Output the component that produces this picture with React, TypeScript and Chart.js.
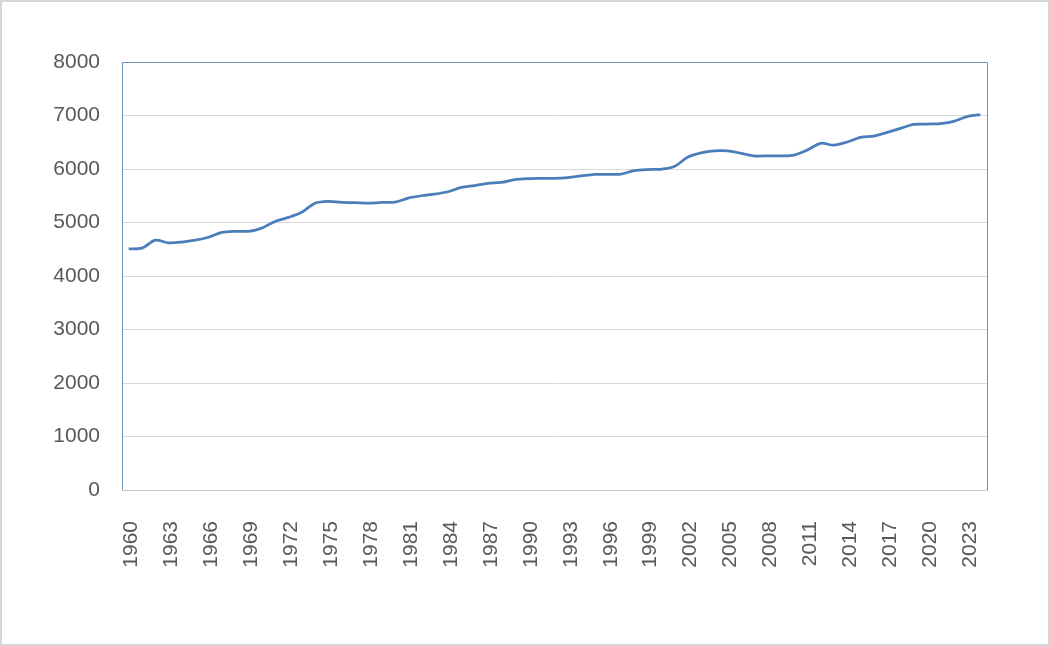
import React, { useEffect, useRef } from "react";
import { Chart, registerables } from "chart.js";

Chart.register(...registerables);

const years: string[] = [
  "1960", "1961", "1962", "1963", "1964", "1965", "1966", "1967", "1968", "1969",
  "1970", "1971", "1972", "1973", "1974", "1975", "1976", "1977", "1978", "1979",
  "1980", "1981", "1982", "1983", "1984", "1985", "1986", "1987", "1988", "1989",
  "1990", "1991", "1992", "1993", "1994", "1995", "1996", "1997", "1998", "1999",
  "2000", "2001", "2002", "2003", "2004", "2005", "2006", "2007", "2008", "2009",
  "2010", "2011", "2012", "2013", "2014", "2015", "2016", "2017", "2018", "2019",
  "2020", "2021", "2022", "2023", "2024",
];

const values: number[] = [
  4505, 4520, 4670, 4620, 4635, 4670, 4725, 4815, 4835, 4835,
  4895, 5020, 5095, 5190, 5360, 5395, 5375, 5370, 5360, 5375,
  5380, 5455, 5500, 5530, 5575, 5655, 5690, 5730, 5750, 5800,
  5820, 5825, 5825, 5840, 5870, 5900, 5900, 5905, 5970, 5990,
  5995, 6045, 6220, 6300, 6340, 6340, 6295, 6245, 6245, 6245,
  6260, 6355, 6480, 6445, 6505, 6590, 6615, 6685, 6760, 6835,
  6840, 6850, 6890, 6980, 7015,
];

const yMin = 0;
const yMax = 8000;
const yStep = 1000;

const W = 1050;
const H = 646;

const framePlugin = {
  id: "frame",
  beforeDraw(chart: any) {
    const ctx = chart.ctx;
    ctx.save();
    ctx.fillStyle = "#ffffff";
    ctx.fillRect(0, 0, chart.width, chart.height);
    ctx.restore();
  },
  afterDraw(chart: any) {
    const ctx = chart.ctx;
    const a = chart.chartArea;
    ctx.save();
    // plot area border
    ctx.strokeStyle = "#6f92b8";
    ctx.lineWidth = 1;
    ctx.beginPath();
    ctx.moveTo(Math.round(a.left) + 0.5, Math.round(a.bottom));
    ctx.lineTo(Math.round(a.left) + 0.5, Math.round(a.top) + 0.5);
    ctx.lineTo(Math.round(a.right) + 0.5, Math.round(a.top) + 0.5);
    ctx.lineTo(Math.round(a.right) + 0.5, Math.round(a.bottom));
    ctx.stroke();
    // bottom axis line
    ctx.strokeStyle = "#c8c8c8";
    ctx.beginPath();
    ctx.moveTo(Math.round(a.left), Math.round(a.bottom) + 0.5);
    ctx.lineTo(Math.round(a.right) + 1, Math.round(a.bottom) + 0.5);
    ctx.stroke();
    // outer image border
    ctx.strokeStyle = "#d6d6d6";
    ctx.lineWidth = 2;
    ctx.strokeRect(1, 1, chart.width - 2, chart.height - 2);
    ctx.restore();
  },
};

export default function App() {
  const ref = useRef<HTMLCanvasElement | null>(null);

  useEffect(() => {
    if (!ref.current) return;
    const chart = new Chart(ref.current, {
      type: "line",
      data: {
        labels: years,
        datasets: [
          {
            data: values,
            borderColor: "#4a7ebb",
            borderWidth: 2.75,
            pointRadius: 0,
            pointHoverRadius: 0,
            tension: 0.3,
            fill: false,
          },
        ],
      },
      options: {
        responsive: false,
        animation: false,
        events: [],
        layout: { padding: { top: 62, right: 63, left: 0, bottom: 0 } },
        plugins: {
          legend: { display: false },
          tooltip: { enabled: false },
          title: { display: false },
        },
        scales: {
          x: {
            type: "category",
            offset: true,
            grid: { display: false, drawTicks: false },
            border: { display: false },
            ticks: {
              autoSkip: false,
              minRotation: 90,
              maxRotation: 90,
              padding: 31,
              labelOffset: 3,
              color: "#595959",
              font: { family: "'Liberation Sans', Arial, sans-serif", size: 21 },
              callback: function (_v: any, i: number) {
                return i % 3 === 0 ? years[i] : "";
              },
            },
            afterFit(scale: any) {
              scale.height = H - 490;
            },
          },
          y: {
            min: yMin,
            max: yMax,
            grid: { color: "#d9d9d9", lineWidth: 1, drawTicks: false },
            border: { display: false },
            ticks: {
              stepSize: yStep,
              padding: 22,
              color: "#595959",
              font: { family: "'Liberation Sans', Arial, sans-serif", size: 21 },
              callback: function (v: any) {
                return String(v);
              },
            },
            afterFit(scale: any) {
              scale.width = 122;
            },
          },
        },
      },
      plugins: [framePlugin],
    });
    return () => chart.destroy();
  }, []);

  return (
    <div style={{ position: "fixed", left: 0, top: 0, width: W, height: H }}>
      <canvas ref={ref} width={W} height={H} style={{ display: "block", width: W, height: H }} />
    </div>
  );
}
